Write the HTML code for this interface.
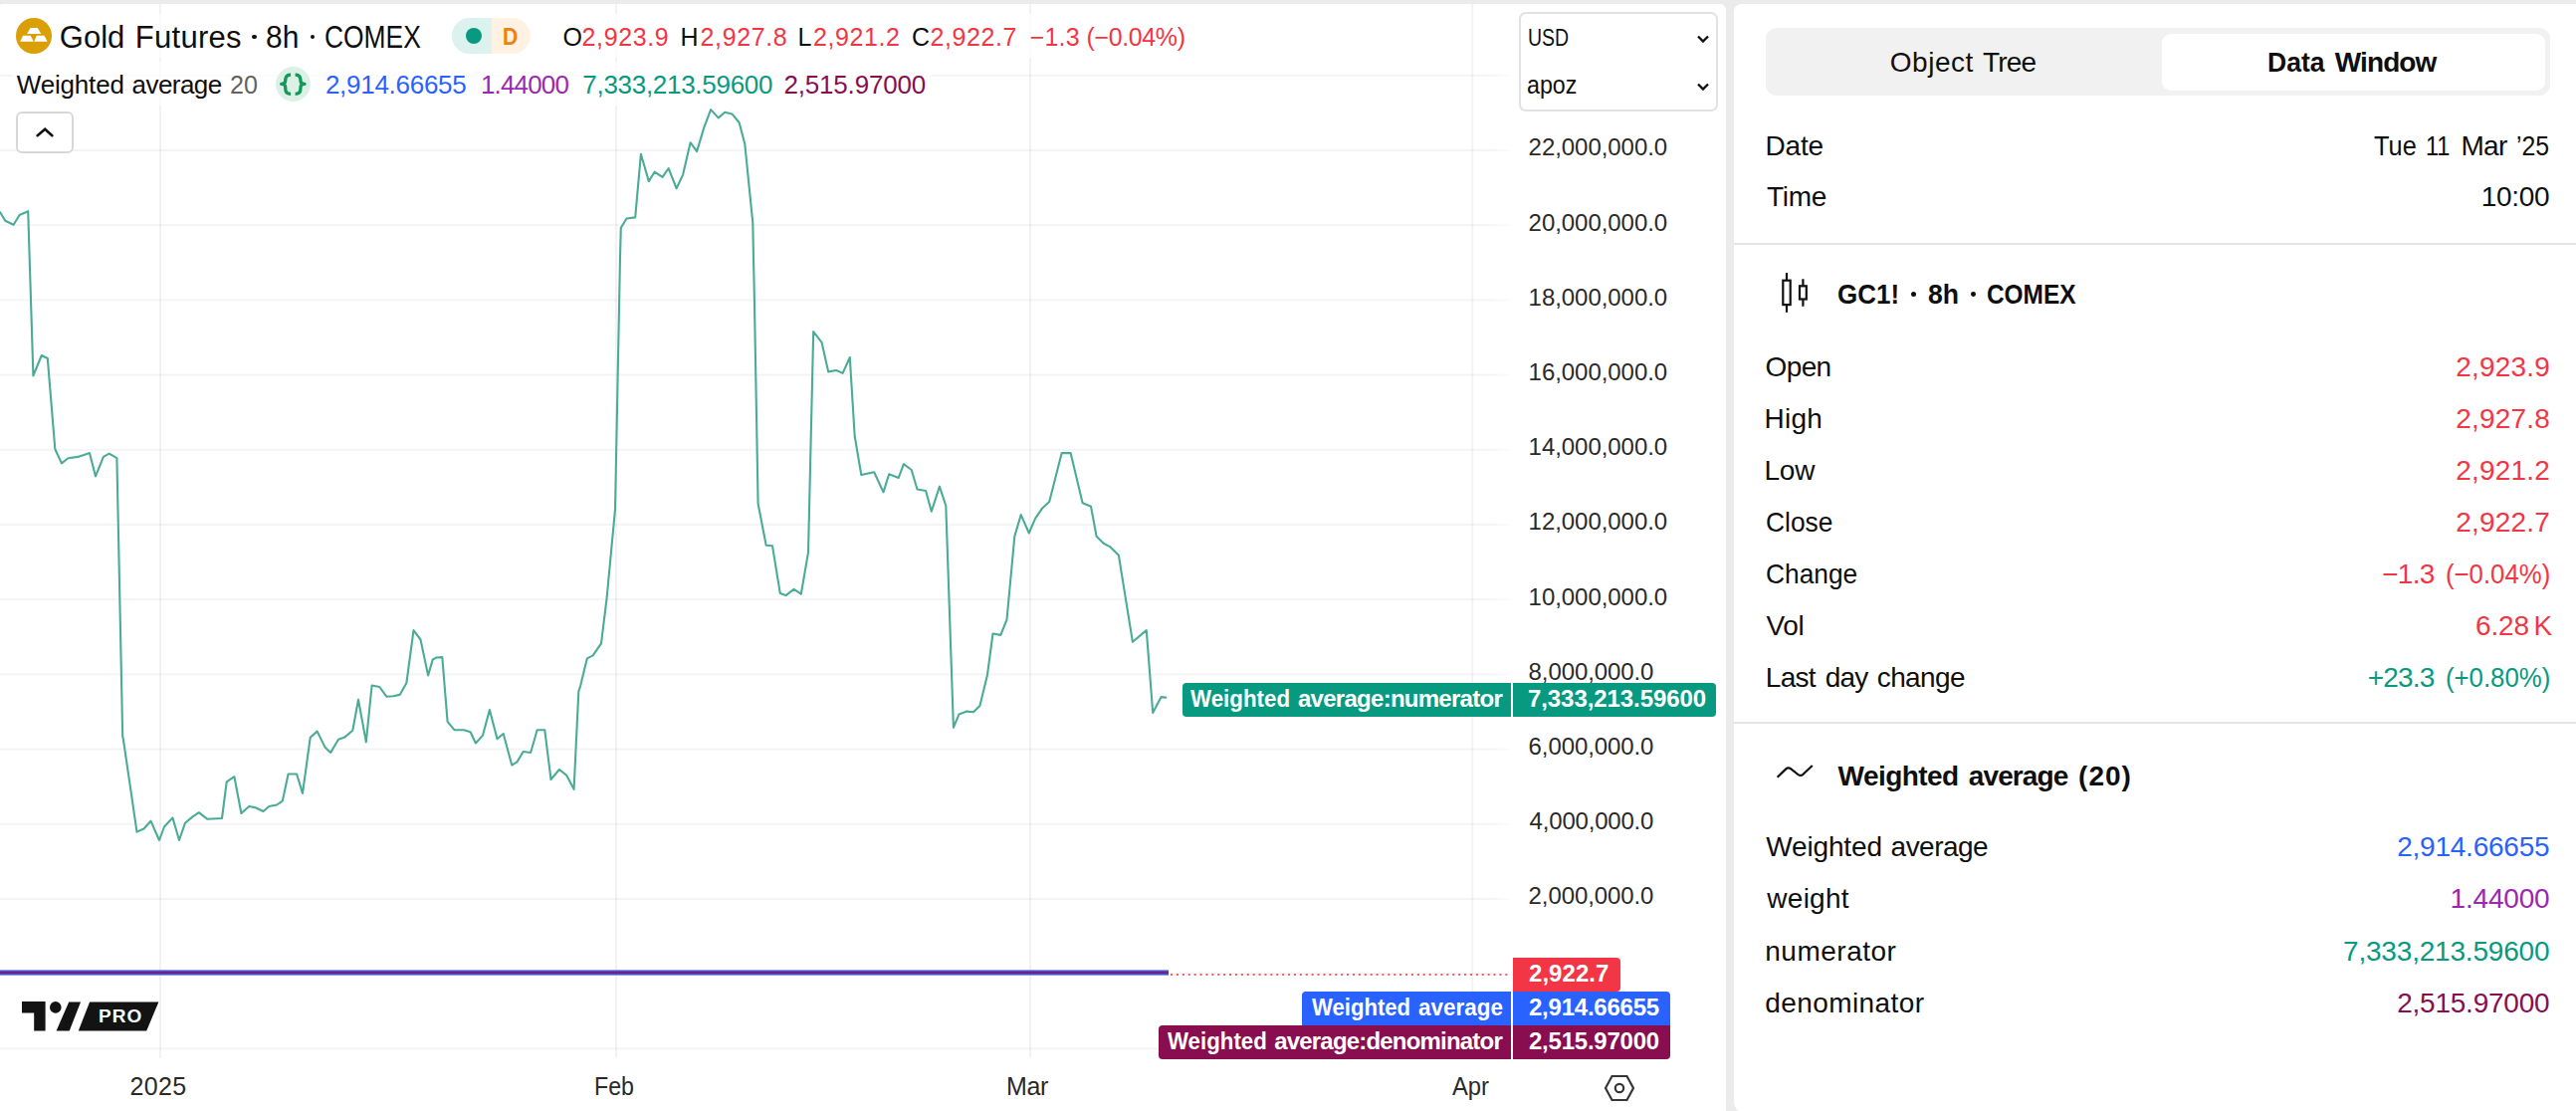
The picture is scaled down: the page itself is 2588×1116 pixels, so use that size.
<!DOCTYPE html>
<html><head><meta charset="utf-8"><style>
html,body{margin:0;padding:0;}
body{width:2588px;height:1116px;overflow:hidden;position:relative;background:#ebebeb;font-family:"Liberation Sans",sans-serif;}
.abs{position:absolute;}
.t{position:absolute;white-space:pre;font-family:"Liberation Sans",sans-serif;}
</style></head><body>
<div class="abs" style="left:-3px;top:4px;width:1737px;height:1140px;background:#fff;border-radius:6px"></div>
<svg class="abs" style="left:0;top:0" width="1734" height="1116" viewBox="0 0 1734 1116">
<defs><linearGradient id="hg" x1="0" x2="1518" gradientUnits="userSpaceOnUse"><stop offset="0" stop-color="#000" stop-opacity="0.045"/><stop offset="0.985" stop-color="#000" stop-opacity="0.045"/><stop offset="1" stop-color="#000" stop-opacity="0.01"/></linearGradient></defs>
<rect x="160.0" y="4" width="2" height="1059" fill="#000" fill-opacity="0.05"/><rect x="618.0" y="4" width="2" height="1059" fill="#000" fill-opacity="0.05"/><rect x="1034.0" y="4" width="2" height="1059" fill="#000" fill-opacity="0.05"/><rect x="1478.3" y="4" width="2" height="1059" fill="#000" fill-opacity="0.05"/><rect x="0" y="74.8" width="1518" height="2" fill="url(#hg)"/><rect x="0" y="150.0" width="1518" height="2" fill="url(#hg)"/><rect x="0" y="225.2" width="1518" height="2" fill="url(#hg)"/><rect x="0" y="300.4" width="1518" height="2" fill="url(#hg)"/><rect x="0" y="375.6" width="1518" height="2" fill="url(#hg)"/><rect x="0" y="450.8" width="1518" height="2" fill="url(#hg)"/><rect x="0" y="526.0" width="1518" height="2" fill="url(#hg)"/><rect x="0" y="601.2" width="1518" height="2" fill="url(#hg)"/><rect x="0" y="676.4" width="1518" height="2" fill="url(#hg)"/><rect x="0" y="751.6" width="1518" height="2" fill="url(#hg)"/><rect x="0" y="826.8" width="1518" height="2" fill="url(#hg)"/><rect x="0" y="902.0" width="1518" height="2" fill="url(#hg)"/><rect x="0" y="977.2" width="1518" height="2" fill="url(#hg)"/><rect x="0" y="1052.4" width="1518" height="2" fill="url(#hg)"/>
<path d="M0.0 213.0 L5.2 221.8 L13.6 225.8 L19.6 216.0 L28.2 212.2 L33.4 377.4 L41.8 357.0 L47.8 360.0 L55.3 451.0 L61.9 465.4 L68.4 460.2 L78.3 458.9 L90.0 455.0 L96.0 478.4 L103.9 458.9 L109.6 455.7 L117.4 460.2 L123.2 739.6 L124.0 743.5 L137.5 835.6 L144.5 832.5 L151.5 824.7 L160.0 844.0 L165.0 830.5 L173.5 821.6 L180.0 844.0 L186.0 826.7 L192.9 820.9 L199.8 816.2 L208.4 822.8 L223.0 822.0 L227.7 785.3 L235.4 780.2 L242.4 817.0 L250.2 810.0 L256.7 811.2 L264.5 815.0 L270.3 810.0 L278.0 808.5 L283.8 804.6 L289.6 777.5 L298.1 777.5 L304.0 796.9 L311.7 740.8 L318.7 734.6 L326.4 750.4 L332.2 755.9 L340.0 742.7 L346.5 740.4 L354.3 733.8 L360.0 702.8 L367.8 745.4 L373.6 688.5 L381.3 690.0 L388.3 699.7 L395.1 699.2 L401.7 697.9 L408.4 686.0 L415.5 633.1 L422.5 642.5 L430.1 678.4 L434.8 662.4 L438.6 660.5 L444.3 660.1 L449.6 724.8 L456.6 733.3 L466.0 733.3 L472.6 735.2 L477.9 746.5 L484.9 738.9 L491.9 713.0 L499.5 742.2 L505.7 737.0 L514.2 768.6 L519.5 765.4 L525.6 755.0 L533.1 756.0 L539.7 733.3 L547.3 733.3 L553.5 783.0 L561.9 773.0 L569.0 778.6 L576.6 792.8 L581.3 694.5 L583.2 688.8 L589.8 661.4 L595.5 658.6 L604.0 646.3 L609.7 600.0 L618.0 511.6 L623.0 258.4 L623.8 228.9 L629.5 219.5 L638.2 218.4 L643.9 154.7 L651.8 182.1 L657.6 172.7 L665.5 177.8 L671.7 169.1 L679.6 189.3 L686.1 175.6 L693.6 143.2 L700.1 152.1 L707.3 128.1 L714.1 110.1 L721.7 118.4 L728.2 112.7 L735.4 114.4 L742.6 123.0 L748.3 144.6 L756.3 223.8 L757.0 258.4 L757.9 300.0 L761.6 505.9 L769.7 547.7 L776.0 548.3 L783.8 596.1 L789.5 598.1 L797.6 591.8 L804.8 596.7 L812.0 554.9 L817.2 333.1 L825.5 343.8 L832.2 373.4 L840.2 372.0 L846.6 374.9 L853.8 359.0 L858.7 438.2 L865.3 477.1 L878.2 474.2 L887.5 494.4 L893.2 476.3 L902.7 480.0 L907.9 466.2 L915.7 472.0 L921.5 491.5 L930.1 493.0 L935.8 513.7 L943.9 488.7 L950.3 508.0 L957.9 730.8 L963.5 717.4 L971.3 714.6 L978.0 715.2 L984.4 709.0 L991.9 678.3 L997.5 636.5 L1005.3 637.9 L1011.5 622.5 L1019.3 538.8 L1025.7 517.1 L1033.8 535.5 L1040.2 520.7 L1047.2 510.4 L1054.2 503.9 L1066.7 455.1 L1075.6 455.1 L1087.6 505.3 L1096.0 508.7 L1101.6 538.8 L1108.6 545.8 L1115.5 549.4 L1123.9 557.8 L1137.9 644.8 L1151.8 633.1 L1158.2 716.0 L1166.6 700.1 L1171.3 700.6" fill="none" stroke="#4aac97" stroke-width="2.1" stroke-linejoin="round" stroke-linecap="round"/>
<rect x="0" y="974.4" width="1174" height="5.2" fill="#4d55d8"/>
<rect x="0" y="975.9" width="1174" height="2.2" fill="#65288a"/>
<line x1="1176" y1="979" x2="1518" y2="979" stroke="#ea6472" stroke-width="2.1" stroke-dasharray="2.1 3.8"/>
</svg>

<div class="abs" style="left:1742px;top:4px;width:860px;height:1114px;background:#fff;border-radius:7px 7px 11px 11px"></div>
<div class="abs" style="left:1774px;top:28px;width:788px;height:68px;background:#f1f1f1;border-radius:11px"></div>
<div class="abs" style="left:2172px;top:34px;width:385px;height:56.5px;background:#fff;border-radius:9px"></div>
<div class="abs" style="left:1742px;top:243.8px;width:860px;height:2px;background:#e3e3e3"></div>
<div class="abs" style="left:1742px;top:725.2px;width:860px;height:2px;background:#e3e3e3"></div>
<svg class="abs" style="left:1786px;top:272px" width="34" height="44" viewBox="1786 272 34 44" fill="none" stroke="#111" stroke-width="2.2">
<rect x="1791.3" y="281.7" width="7.4" height="24.4"/>
<path d="M1795 274 V281.7 M1795 306.1 V313.8"/>
<rect x="1808" y="287.3" width="6.8" height="13.2"/>
<path d="M1811.4 280.3 V287.3 M1811.4 300.5 V307.7"/>
</svg>
<svg class="abs" style="left:1780px;top:762px" width="46" height="26" viewBox="1780 762 46 26" fill="none" stroke="#111" stroke-width="2.2" stroke-linecap="round" stroke-linejoin="round">
<path d="M1785.6 780.8 L1794.3 772.4 Q1796.6 770.3 1799 772.2 L1806.4 778 Q1809 780 1811.5 777.8 L1820.8 769" stroke-linecap="butt"/>
</svg>


<!-- legend backgrounds -->
<div class="abs" style="left:12px;top:14px;width:1182px;height:44px;background:rgba(255,255,255,0.7)"></div>
<div class="abs" style="left:12px;top:62px;width:924px;height:44px;background:rgba(255,255,255,0.7)"></div>
<!-- gold icon -->
<svg class="abs" style="left:16px;top:18px" width="36" height="36" viewBox="0 0 36 36">
<circle cx="18" cy="18" r="18" fill="#db9f06"/>
<path d="M14.6 9.9 L21.7 9.9 L25.3 16 L11 16 Z" fill="#fff"/>
<path d="M7.1 17.8 L14.6 17.8 L17.8 23.7 L4.1 23.7 Z" fill="#fff"/>
<path d="M20.9 17.8 L28.5 17.8 L31.6 23.7 L18.2 23.7 Z" fill="#fff"/>
</svg>
<!-- pill -->
<div class="abs" style="left:454px;top:18px;width:79px;height:36px;border-radius:18px;overflow:hidden;background:#fff2e3">
 <div class="abs" style="left:0;top:0;width:40px;height:36px;background:#dcf2ee"></div>
 <div class="abs" style="left:13.6px;top:9.6px;width:16.8px;height:16.8px;border-radius:50%;background:#089981"></div>
</div>
<div class="t" style="left:505.3px;top:24.8px;font-size:24px;line-height:24px;font-weight:bold;color:#f0800f;transform:scaleX(0.88);transform-origin:0 0">D</div>
<!-- braces -->
<div class="abs" style="left:276.5px;top:66.5px;width:35.5px;height:35.5px;border-radius:50%;background:#dcf1e5"></div>
<svg class="abs" style="left:276.5px;top:66.5px" width="35" height="35" viewBox="0 0 35 35" fill="none" stroke="#14995a" stroke-width="3.3" stroke-linecap="butt" stroke-linejoin="round">
<path d="M15.1 8.2 Q10.2 8.2 9.9 12.5 L9.6 14.8 Q9.3 17.3 5.6 17.3 Q9.3 17.3 9.6 19.8 L9.9 23.4 Q10.2 27.3 15.1 27.3"/>
<path d="M19.6 8.2 Q24.5 8.2 24.8 12.5 L25.1 14.8 Q25.4 17.3 29.1 17.3 Q25.4 17.3 25.1 19.8 L24.8 23.4 Q24.5 27.3 19.6 27.3"/>
</svg>
<!-- collapse button -->
<div class="abs" style="left:16.2px;top:112.2px;width:53.6px;height:37.6px;border:2px solid #d8d8d8;border-radius:6px;background:#fff"></div>
<svg class="abs" style="left:35px;top:126px" width="20" height="14" viewBox="0 0 20 14"><path d="M2.6 10.2 L10.2 3.8 L17.4 10.2" fill="none" stroke="#111" stroke-width="2.6" stroke-linecap="round"/></svg>
<!-- selects -->
<div class="abs" style="left:1526.3px;top:12.3px;width:195.4px;height:95.7px;border:2px solid #e2e2e2;border-radius:7px;background:#fff"></div>
<svg class="abs" style="left:1704px;top:34px" width="14" height="10" viewBox="0 0 14 10"><path d="M2 2.5 L7 7.5 L12 2.5" fill="none" stroke="#111" stroke-width="2.4"/></svg>
<svg class="abs" style="left:1704px;top:82px" width="14" height="10" viewBox="0 0 14 10"><path d="M2 2.5 L7 7.5 L12 2.5" fill="none" stroke="#111" stroke-width="2.4"/></svg>
<!-- axis price labels -->
<div class="abs" style="left:1188px;top:685.6px;width:330px;height:34.2px;background:#089981;border-radius:4px 0 0 4px"></div>
<div class="abs" style="left:1520px;top:685.6px;width:204px;height:34.2px;background:#089981;border-radius:0 4px 4px 0"></div>
<div class="abs" style="left:1520px;top:962px;width:108px;height:33.5px;background:#f23645;border-radius:0 4px 4px 0"></div>
<div class="abs" style="left:1308px;top:996px;width:210px;height:33.5px;background:#2962ff;border-radius:4px 0 0 0"></div>
<div class="abs" style="left:1520px;top:996px;width:157.6px;height:33.5px;background:#2962ff;border-radius:0 4px 0 0"></div>
<div class="abs" style="left:1164px;top:1030px;width:354px;height:33.5px;background:#880e4f;border-radius:4px 0 0 4px"></div>
<div class="abs" style="left:1520px;top:1030px;width:157.6px;height:33.5px;background:#880e4f;border-radius:0 0 4px 0"></div>
<!-- TV logo -->
<svg class="abs" style="left:0;top:990px" width="180" height="60" viewBox="0 990 180 60">
<path d="M22 1006.1 H45.6 V1035.5 H34.2 V1017.4 H22 Z" fill="#131313"/>
<circle cx="55.8" cy="1011.9" r="5.8" fill="#131313"/>
<path d="M69.2 1006.4 H81.1 L69.7 1035.5 H56.6 Z" fill="#131313"/>
<path d="M90.1 1006.4 H159.4 L147.2 1035.5 H78.8 Z" fill="#131313"/>
</svg>
<div class="t" style="left:99px;top:1011px;font-size:19px;line-height:19px;font-weight:bold;color:#fff;letter-spacing:1.0px">PRO</div>
<!-- settings hexagon -->
<svg class="abs" style="left:1610px;top:1078px" width="34" height="30" viewBox="0 0 34 30" fill="none" stroke="#363636" stroke-width="2.2">
<path d="M9.5 3 H24.5 L31 15 L24.5 27 H9.5 L3 15 Z"/>
<circle cx="17" cy="15" r="4.2"/>
</svg>

<div class="t" style="left:59.80px;top:21.86px;font-size:31px;line-height:31px;color:#0f0f0f;letter-spacing:0.020px;">Gold</div>
<div class="t" style="left:135.70px;top:21.86px;font-size:31px;line-height:31px;color:#0f0f0f;letter-spacing:0.301px;">Futures</div>
<div class="t" style="left:267.34px;top:21.86px;font-size:31px;line-height:31px;color:#0f0f0f;transform:scaleX(0.9646);transform-origin:0 0;">8h</div>
<div class="t" style="left:325.75px;top:21.86px;font-size:31px;line-height:31px;color:#0f0f0f;transform:scaleX(0.8513);transform-origin:0 0;">COMEX</div>
<div class="t" style="left:565.40px;top:24.84px;font-size:25px;line-height:25px;color:#0f0f0f;">O</div>
<div class="t" style="left:584.60px;top:24.84px;font-size:25px;line-height:25px;color:#f23645;letter-spacing:0.599px;">2,923.9</div>
<div class="t" style="left:683.60px;top:24.84px;font-size:25px;line-height:25px;color:#0f0f0f;">H</div>
<div class="t" style="left:703.60px;top:24.84px;font-size:25px;line-height:25px;color:#f23645;letter-spacing:0.599px;">2,927.8</div>
<div class="t" style="left:801.60px;top:24.84px;font-size:25px;line-height:25px;color:#0f0f0f;">L</div>
<div class="t" style="left:816.90px;top:24.84px;font-size:25px;line-height:25px;color:#f23645;letter-spacing:0.599px;">2,921.2</div>
<div class="t" style="left:916.00px;top:24.84px;font-size:25px;line-height:25px;color:#0f0f0f;">C</div>
<div class="t" style="left:934.50px;top:24.84px;font-size:25px;line-height:25px;color:#f23645;letter-spacing:0.599px;">2,922.7</div>
<div class="t" style="left:1034.70px;top:24.84px;font-size:25px;line-height:25px;color:#f23645;letter-spacing:0.184px;">−1.3</div>
<div class="t" style="left:1091.50px;top:24.84px;font-size:25px;line-height:25px;color:#f23645;letter-spacing:-0.373px;">(−0.04%)</div>
<div class="t" style="left:16.80px;top:72.09px;font-size:26px;line-height:26px;color:#0f0f0f;letter-spacing:-0.187px;">Weighted</div>
<div class="t" style="left:132.50px;top:72.09px;font-size:26px;line-height:26px;color:#0f0f0f;letter-spacing:-0.533px;">average</div>
<div class="t" style="left:231.03px;top:72.09px;font-size:26px;line-height:26px;color:#626262;transform:scaleX(0.9650);transform-origin:0 0;">20</div>
<div class="t" style="left:326.90px;top:72.09px;font-size:26px;line-height:26px;color:#2962ff;letter-spacing:-0.273px;">2,914.66655</div>
<div class="t" style="left:482.90px;top:72.09px;font-size:26px;line-height:26px;color:#9c27b0;letter-spacing:-0.837px;">1.44000</div>
<div class="t" style="left:585.30px;top:72.09px;font-size:26px;line-height:26px;color:#089981;letter-spacing:-0.288px;">7,333,213.59600</div>
<div class="t" style="left:787.50px;top:72.09px;font-size:26px;line-height:26px;color:#880e4f;letter-spacing:-0.193px;">2,515.97000</div>
<div class="t" style="left:1534.57px;top:26.81px;font-size:23.5px;line-height:23.5px;color:#0f0f0f;transform:scaleX(0.8290);transform-origin:0 0;">USD</div>
<div class="t" style="left:1534.29px;top:72.81px;font-size:25.5px;line-height:25.5px;color:#0f0f0f;transform:scaleX(0.9114);transform-origin:0 0;">apoz</div>
<div class="t" style="left:1535.60px;top:136.48px;font-size:24px;line-height:24px;color:#2a2a2a;letter-spacing:-0.053px;">22,000,000.0</div>
<div class="t" style="left:1535.60px;top:211.68px;font-size:24px;line-height:24px;color:#2a2a2a;letter-spacing:-0.053px;">20,000,000.0</div>
<div class="t" style="left:1535.60px;top:286.88px;font-size:24px;line-height:24px;color:#2a2a2a;letter-spacing:-0.053px;">18,000,000.0</div>
<div class="t" style="left:1535.60px;top:362.08px;font-size:24px;line-height:24px;color:#2a2a2a;letter-spacing:-0.053px;">16,000,000.0</div>
<div class="t" style="left:1535.60px;top:437.28px;font-size:24px;line-height:24px;color:#2a2a2a;letter-spacing:-0.053px;">14,000,000.0</div>
<div class="t" style="left:1535.60px;top:512.48px;font-size:24px;line-height:24px;color:#2a2a2a;letter-spacing:-0.053px;">12,000,000.0</div>
<div class="t" style="left:1535.60px;top:587.68px;font-size:24px;line-height:24px;color:#2a2a2a;letter-spacing:-0.053px;">10,000,000.0</div>
<div class="t" style="left:1535.60px;top:662.88px;font-size:24px;line-height:24px;color:#2a2a2a;letter-spacing:-0.094px;">8,000,000.0</div>
<div class="t" style="left:1535.60px;top:738.08px;font-size:24px;line-height:24px;color:#2a2a2a;letter-spacing:-0.094px;">6,000,000.0</div>
<div class="t" style="left:1536.60px;top:813.28px;font-size:24px;line-height:24px;color:#2a2a2a;letter-spacing:-0.194px;">4,000,000.0</div>
<div class="t" style="left:1535.60px;top:888.48px;font-size:24px;line-height:24px;color:#2a2a2a;letter-spacing:-0.094px;">2,000,000.0</div>
<div class="t" style="left:130.40px;top:1079.34px;font-size:25px;line-height:25px;color:#2a2a2a;letter-spacing:0.363px;">2025</div>
<div class="t" style="left:596.64px;top:1079.34px;font-size:25px;line-height:25px;color:#2a2a2a;transform:scaleX(0.9284);transform-origin:0 0;">Feb</div>
<div class="t" style="left:1011.00px;top:1079.34px;font-size:25px;line-height:25px;color:#2a2a2a;letter-spacing:-0.365px;">Mar</div>
<div class="t" style="left:1459.00px;top:1079.34px;font-size:25px;line-height:25px;color:#2a2a2a;transform:scaleX(0.9513);transform-origin:0 0;">Apr</div>
<div class="t" style="left:1196.10px;top:690.08px;font-size:24px;line-height:24px;color:#ffffff;font-weight:bold;transform:scaleX(0.9299);transform-origin:0 0;">Weighted</div>
<div class="t" style="left:1304.00px;top:690.08px;font-size:24px;line-height:24px;color:#ffffff;font-weight:bold;letter-spacing:-0.730px;">average:numerator</div>
<div class="t" style="left:1535.00px;top:690.08px;font-size:24px;line-height:24px;color:#ffffff;font-weight:bold;letter-spacing:-0.081px;">7,333,213.59600</div>
<div class="t" style="left:1536.00px;top:966.18px;font-size:24px;line-height:24px;color:#ffffff;font-weight:bold;letter-spacing:0.046px;">2,922.7</div>
<div class="t" style="left:1317.90px;top:1000.18px;font-size:24px;line-height:24px;color:#ffffff;font-weight:bold;transform:scaleX(0.9215);transform-origin:0 0;">Weighted</div>
<div class="t" style="left:1424.80px;top:1000.18px;font-size:24px;line-height:24px;color:#ffffff;font-weight:bold;transform:scaleX(0.9359);transform-origin:0 0;">average</div>
<div class="t" style="left:1536.00px;top:1000.18px;font-size:24px;line-height:24px;color:#ffffff;font-weight:bold;letter-spacing:-0.232px;">2,914.66655</div>
<div class="t" style="left:1172.60px;top:1034.18px;font-size:24px;line-height:24px;color:#ffffff;font-weight:bold;transform:scaleX(0.9280);transform-origin:0 0;">Weighted</div>
<div class="t" style="left:1280.20px;top:1034.18px;font-size:24px;line-height:24px;color:#ffffff;font-weight:bold;letter-spacing:-0.807px;">average:denominator</div>
<div class="t" style="left:1536.00px;top:1034.18px;font-size:24px;line-height:24px;color:#ffffff;font-weight:bold;letter-spacing:-0.232px;">2,515.97000</div>
<div class="t" style="left:1898.80px;top:48.60px;font-size:28px;line-height:28px;color:#0f0f0f;letter-spacing:0.511px;">Object</div>
<div class="t" style="left:1991.90px;top:48.60px;font-size:28px;line-height:28px;color:#0f0f0f;letter-spacing:-0.787px;">Tree</div>
<div class="t" style="left:2278.05px;top:48.60px;font-size:28px;line-height:28px;color:#0f0f0f;font-weight:bold;transform:scaleX(0.9481);transform-origin:0 0;">Data</div>
<div class="t" style="left:2345.70px;top:48.60px;font-size:28px;line-height:28px;color:#0f0f0f;font-weight:bold;letter-spacing:-0.874px;">Window</div>
<div class="t" style="left:1773.60px;top:132.60px;font-size:28px;line-height:28px;color:#0f0f0f;letter-spacing:-0.191px;">Date</div>
<div class="t" style="left:1775.00px;top:184.40px;font-size:28px;line-height:28px;color:#0f0f0f;letter-spacing:-0.303px;">Time</div>
<div class="t" style="left:2385.10px;top:132.60px;font-size:28px;line-height:28px;color:#0f0f0f;transform:scaleX(0.9049);transform-origin:0 0;">Tue</div>
<div class="t" style="left:2437.02px;top:132.60px;font-size:28px;line-height:28px;color:#0f0f0f;transform:scaleX(0.8417);transform-origin:0 0;">11</div>
<div class="t" style="left:2472.40px;top:132.60px;font-size:28px;line-height:28px;color:#0f0f0f;letter-spacing:-0.598px;">Mar</div>
<div class="t" style="left:2527.91px;top:132.60px;font-size:28px;line-height:28px;color:#0f0f0f;transform:scaleX(0.8884);transform-origin:0 0;">’25</div>
<div class="t" style="left:2492.80px;top:184.40px;font-size:28px;line-height:28px;color:#0f0f0f;letter-spacing:-0.324px;">10:00</div>
<div class="t" style="left:1846.17px;top:282.00px;font-size:28px;line-height:28px;color:#0f0f0f;font-weight:bold;transform:scaleX(0.9281);transform-origin:0 0;">GC1!</div>
<div class="t" style="left:1937.40px;top:282.00px;font-size:28px;line-height:28px;color:#0f0f0f;font-weight:bold;transform:scaleX(0.9502);transform-origin:0 0;">8h</div>
<div class="t" style="left:1996.03px;top:282.00px;font-size:28px;line-height:28px;color:#0f0f0f;font-weight:bold;transform:scaleX(0.8716);transform-origin:0 0;">COMEX</div>
<div class="t" style="left:1773.50px;top:354.70px;font-size:28px;line-height:28px;color:#0f0f0f;letter-spacing:-0.608px;">Open</div>
<div class="t" style="left:2467.30px;top:354.70px;font-size:28px;line-height:28px;color:#f23645;letter-spacing:0.192px;">2,923.9</div>
<div class="t" style="left:1772.50px;top:406.70px;font-size:28px;line-height:28px;color:#0f0f0f;letter-spacing:0.229px;">High</div>
<div class="t" style="left:2467.30px;top:406.70px;font-size:28px;line-height:28px;color:#f23645;letter-spacing:0.192px;">2,927.8</div>
<div class="t" style="left:1772.50px;top:458.70px;font-size:28px;line-height:28px;color:#0f0f0f;letter-spacing:-0.222px;">Low</div>
<div class="t" style="left:2467.30px;top:458.70px;font-size:28px;line-height:28px;color:#f23645;letter-spacing:0.192px;">2,921.2</div>
<div class="t" style="left:1773.56px;top:510.70px;font-size:28px;line-height:28px;color:#0f0f0f;transform:scaleX(0.9412);transform-origin:0 0;">Close</div>
<div class="t" style="left:2467.30px;top:510.70px;font-size:28px;line-height:28px;color:#f23645;letter-spacing:0.192px;">2,922.7</div>
<div class="t" style="left:1773.56px;top:562.70px;font-size:28px;line-height:28px;color:#0f0f0f;transform:scaleX(0.9398);transform-origin:0 0;">Change</div>
<div class="t" style="left:2393.20px;top:562.70px;font-size:28px;line-height:28px;color:#f23645;letter-spacing:-0.734px;">−1.3</div>
<div class="t" style="left:2456.58px;top:562.70px;font-size:28px;line-height:28px;color:#f23645;transform:scaleX(0.9200);transform-origin:0 0;">(−0.04%)</div>
<div class="t" style="left:1774.50px;top:614.70px;font-size:28px;line-height:28px;color:#0f0f0f;letter-spacing:-0.302px;">Vol</div>
<div class="t" style="left:2487.10px;top:614.70px;font-size:28px;line-height:28px;color:#f23645;letter-spacing:-0.208px;">6.28</div>
<div class="t" style="left:2545.50px;top:614.70px;font-size:28px;line-height:28px;color:#f23645;">K</div>
<div class="t" style="left:1773.80px;top:666.70px;font-size:28px;line-height:28px;color:#0f0f0f;letter-spacing:-0.715px;">Last</div>
<div class="t" style="left:1833.80px;top:666.70px;font-size:28px;line-height:28px;color:#0f0f0f;letter-spacing:-0.872px;">day</div>
<div class="t" style="left:1885.80px;top:666.70px;font-size:28px;line-height:28px;color:#0f0f0f;letter-spacing:-0.638px;">change</div>
<div class="t" style="left:2378.80px;top:666.70px;font-size:28px;line-height:28px;color:#089981;letter-spacing:-0.844px;">+23.3</div>
<div class="t" style="left:2456.58px;top:666.70px;font-size:28px;line-height:28px;color:#089981;transform:scaleX(0.9200);transform-origin:0 0;">(+0.80%)</div>
<div class="t" style="left:1846.60px;top:765.90px;font-size:28px;line-height:28px;color:#0f0f0f;font-weight:bold;letter-spacing:-0.568px;">Weighted</div>
<div class="t" style="left:1977.80px;top:765.90px;font-size:28px;line-height:28px;color:#0f0f0f;font-weight:bold;letter-spacing:-0.898px;">average</div>
<div class="t" style="left:2088.10px;top:765.90px;font-size:28px;line-height:28px;color:#0f0f0f;font-weight:bold;letter-spacing:1.010px;">(20)</div>
<div class="t" style="left:1774.30px;top:837.40px;font-size:28px;line-height:28px;color:#0f0f0f;letter-spacing:-0.159px;">Weighted</div>
<div class="t" style="left:1899.60px;top:837.40px;font-size:28px;line-height:28px;color:#0f0f0f;letter-spacing:-0.536px;">average</div>
<div class="t" style="left:2408.20px;top:837.40px;font-size:28px;line-height:28px;color:#2962ff;letter-spacing:-0.234px;">2,914.66655</div>
<div class="t" style="left:1775.30px;top:889.47px;font-size:28px;line-height:28px;color:#0f0f0f;letter-spacing:0.268px;">weight</div>
<div class="t" style="left:2461.60px;top:889.47px;font-size:28px;line-height:28px;color:#9c27b0;letter-spacing:-0.207px;">1.44000</div>
<div class="t" style="left:1773.30px;top:941.54px;font-size:28px;line-height:28px;color:#0f0f0f;letter-spacing:0.501px;">numerator</div>
<div class="t" style="left:2354.00px;top:941.54px;font-size:28px;line-height:28px;color:#089981;letter-spacing:-0.188px;">7,333,213.59600</div>
<div class="t" style="left:1773.30px;top:993.61px;font-size:28px;line-height:28px;color:#0f0f0f;letter-spacing:0.407px;">denominator</div>
<div class="t" style="left:2408.20px;top:993.61px;font-size:28px;line-height:28px;color:#880e4f;letter-spacing:-0.234px;">2,515.97000</div>
<div class="abs" style="left:253.40px;top:34.75px;width:4.30px;height:4.30px;border-radius:50%;background:#0f0f0f"></div><div class="abs" style="left:311.60px;top:34.76px;width:4.30px;height:4.30px;border-radius:50%;background:#0f0f0f"></div><div class="abs" style="left:1920.00px;top:293.04px;width:5.00px;height:5.00px;border-radius:50%;background:#0f0f0f"></div><div class="abs" style="left:1980.10px;top:293.09px;width:4.90px;height:4.90px;border-radius:50%;background:#0f0f0f"></div>
</body></html>
